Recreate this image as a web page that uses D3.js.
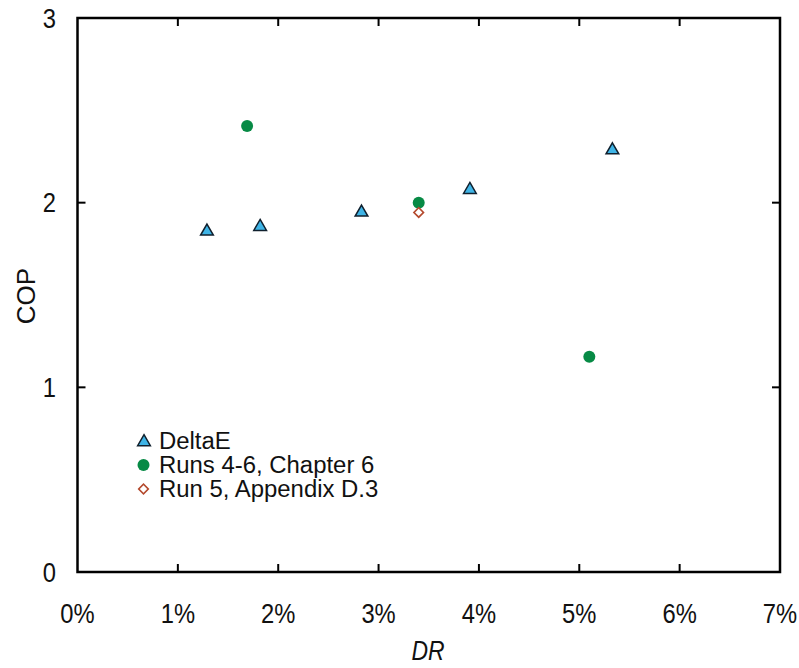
<!DOCTYPE html>
<html>
<head>
<meta charset="utf-8">
<script src="https://cdn.jsdelivr.net/npm/d3@7"></script>
<style>
  body { margin: 0; background: #fff; }
  svg text { font-family: "Liberation Sans", Arial, sans-serif; fill: #111; }
</style>
</head>
<body>
<svg id="chart" width="799" height="668"></svg>
<script>
// values
let deltaE_dr = [0.0129, 0.0182, 0.0283, 0.0391, 0.0533];
let deltaE_cop = [1.85, 1.875, 1.953, 2.075, 2.29];
let ch6_dr = [0.0169, 0.0340, 0.0510];
let ch6_cop = [2.415, 2.0, 1.165];
let appD_dr = [0.0340];
let appD_cop = [1.947];

let xTicks = [0, 0.01, 0.02, 0.03, 0.04, 0.05, 0.06, 0.07];
let yTicks = [0, 1, 2, 3];
let legendNames = ['DeltaE', 'Runs 4-6, Chapter 6', 'Run 5, Appendix D.3'];

const svg = d3.select('#chart');
const plotL = 77.5, plotR = 780, plotT = 18, plotB = 572;

let x = d3.scaleLinear().domain([0, 0.07]).range([plotL, plotR]);
let y = d3.scaleLinear().domain([0, 3]).range([plotB, plotT]);

let zip = function(a, b) { return a.map(function(v, i) { return [v, b[i]]; }); };

// inward ticks on all four sides
let tickLen = 8;
let inner = xTicks.slice(1, -1);
svg.selectAll('line.xb').data(inner).enter().append('line')
    .attr('x1', d => x(d)).attr('x2', d => x(d))
    .attr('y1', plotB).attr('y2', plotB - tickLen)
    .attr('stroke', '#000').attr('stroke-width', 2);
svg.selectAll('line.xt').data(inner).enter().append('line')
    .attr('x1', d => x(d)).attr('x2', d => x(d))
    .attr('y1', plotT).attr('y2', plotT + tickLen)
    .attr('stroke', '#000').attr('stroke-width', 2);
let yinner = yTicks.slice(1, -1);
svg.selectAll('line.yl').data(yinner).enter().append('line')
    .attr('x1', plotL).attr('x2', plotL + tickLen)
    .attr('y1', d => y(d)).attr('y2', d => y(d))
    .attr('stroke', '#000').attr('stroke-width', 2);
svg.selectAll('line.yr').data(yinner).enter().append('line')
    .attr('x1', plotR).attr('x2', plotR - tickLen)
    .attr('y1', d => y(d)).attr('y2', d => y(d))
    .attr('stroke', '#000').attr('stroke-width', 2);

svg.append('rect')
    .attr('x', plotL).attr('y', plotT)
    .attr('width', plotR - plotL).attr('height', plotB - plotT)
    .attr('fill', 'none').attr('stroke', '#000').attr('stroke-width', 2.5);

// tick labels
let fmt = d3.format('.0%');
svg.selectAll('text.xl').data(xTicks).enter().append('text')
    .attr('transform', d => 'translate(' + x(d) + ',623) scale(0.88,1)')
    .attr('text-anchor', 'middle')
    .style('font-size', '27px')
    .text(d => fmt(d));
svg.selectAll('text.yl').data(yTicks).enter().append('text')
    .attr('transform', d => 'translate(56,' + (y(d) + 9.5) + ') scale(0.88,1)')
    .attr('text-anchor', 'end')
    .style('font-size', '27px')
    .text(d => d);

// axis titles
svg.append('text')
    .attr('transform', 'translate(35,296) rotate(-90)')
    .attr('text-anchor', 'middle')
    .style('font-size', '26px')
    .text('COP');
svg.append('text')
    .attr('transform', 'translate(428,660) scale(0.85,1)')
    .attr('text-anchor', 'middle')
    .style('font-size', '27px')
    .style('font-style', 'italic')
    .text('DR');

// marker shapes
let tri = d3.symbol().type(d3.symbolTriangle).size(70);
let sq = d3.symbol().type(d3.symbolSquare).size(46);

function drawTriangles(g, data) {
    g.selectAll('path.tri').data(data).enter().append('path')
        .attr('d', tri)
        .attr('transform', d => 'translate(' + d[0] + ',' + (d[1] + 1) + ')')
        .attr('fill', '#3fb4e6').attr('stroke', '#10202e').attr('stroke-width', 1.5);
}
function drawCircles(g, data) {
    g.selectAll('circle.c').data(data).enter().append('circle')
        .attr('cx', d => d[0]).attr('cy', d => d[1]).attr('r', 6)
        .attr('fill', '#078a45');
}
function drawDiamonds(g, data) {
    g.selectAll('path.dia').data(data).enter().append('path')
        .attr('d', sq)
        .attr('transform', d => 'translate(' + d[0] + ',' + d[1] + ') rotate(45)')
        .attr('fill', '#fff').attr('stroke', '#b4492d').attr('stroke-width', 1.6);
}

let pts = svg.append('g');
drawTriangles(pts.append('g'), zip(deltaE_dr, deltaE_cop).map(d => [x(d[0]), y(d[1])]));
drawCircles(pts.append('g'), zip(ch6_dr, ch6_cop).map(d => [x(d[0]), y(d[1])]));
drawDiamonds(pts.append('g'), zip(appD_dr, appD_cop).map(d => [x(d[0]), y(d[1])]));

// legend
let legY = [441, 465, 489];
let lg = svg.append('g');
drawTriangles(lg.append('g'), [[144, legY[0]]]);
drawCircles(lg.append('g'), [[143.5, legY[1]]]);
drawDiamonds(lg.append('g'), [[143.5, legY[2]]]);
lg.selectAll('text').data(legendNames).enter().append('text')
    .attr('transform', (d, i) => 'translate(159,' + (legY[i] + 8) + ') scale(1.04,1)')
    .style('font-size', '23px')
    .text(d => d);
</script>
</body>
</html>
